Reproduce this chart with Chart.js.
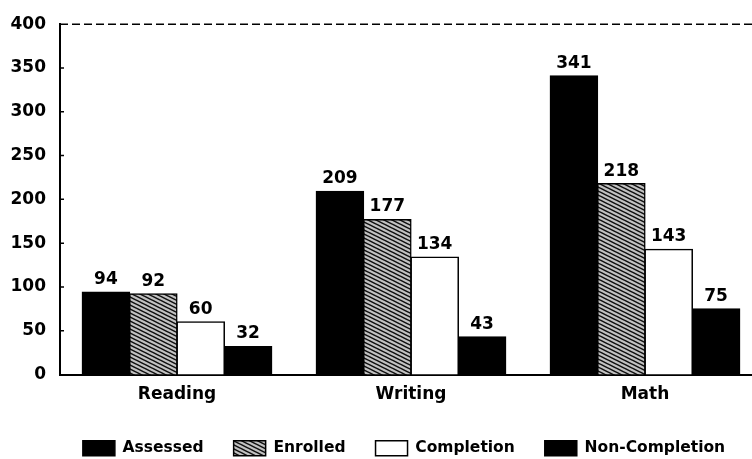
<!DOCTYPE html>
<html>
<head>
<meta charset="utf-8">
<script src="https://cdn.jsdelivr.net/npm/chart.js@4.4.0/dist/chart.umd.min.js"></script>
<style>
  html, body { margin: 0; padding: 0; background: #fff; overflow: hidden; }
  #wrap { position: relative; width: 808px; height: 466px; }
</style>
</head>
<body>
<div id="wrap"><canvas id="chart"></canvas></div>
<script>
// Course counts by subject
const categories = ['Reading', 'Writing', 'Math'];
const seriesNames = ['Assessed', 'Enrolled', 'Completion', 'Non-Completion'];
const assessed = [94, 209, 341];
const enrolled = [92, 177, 218];
const completion = [60, 134, 143];
const nonCompletion = [32, 43, 75];
const yTicks = [0, 50, 100, 150, 200, 250, 300, 350, 400];

const FONT = '"DejaVu Sans", "Liberation Sans", sans-serif';

// Grey hatched fill for the Enrolled bars
function makeHatch(ctx) {
  const p = document.createElement('canvas');
  p.width = 8; p.height = 4;
  const g = p.getContext('2d');
  g.fillStyle = '#c2c2c2';
  g.fillRect(0, 0, 8, 4);
  g.strokeStyle = '#111';
  g.lineWidth = 1.5;
  g.beginPath();
  for (let k = -2; k <= 2; k++) {
    g.moveTo(-1, -0.5 + 4 * k);
    g.lineTo(9, 4.5 + 4 * k);
  }
  g.stroke();
  return ctx.createPattern(p, 'repeat');
}

const canvas = document.getElementById('chart');
const ctx = canvas.getContext('2d');
const hatch = makeHatch(ctx);

// Value labels above each bar
const valueLabels = {
  id: 'valueLabels',
  afterDatasetsDraw(chart) {
    const c = chart.ctx;
    c.save();
    c.font = 'bold 17px ' + FONT;
    c.fillStyle = '#000';
    c.textAlign = 'center';
    c.textBaseline = 'alphabetic';
    chart.data.datasets.forEach((ds, di) => {
      const meta = chart.getDatasetMeta(di);
      meta.data.forEach((bar, i) => {
        c.fillText(String(ds.data[i]), bar.x, bar.y - 8);
      });
    });
    c.restore();
  }
};

// Dashed top frame line and short inward ticks on the value axis
const frame = {
  id: 'frame',
  afterDraw(chart) {
    const c = chart.ctx;
    const a = chart.chartArea;
    const y = chart.scales.y;
    c.save();
    c.strokeStyle = '#000';
    c.lineWidth = 1.5;
    c.setLineDash([8, 4]);
    c.beginPath();
    c.moveTo(a.left, a.top);
    c.lineTo(a.right, a.top);
    c.stroke();
    c.setLineDash([]);
    c.beginPath();
    yTicks.forEach(v => {
      if (v === yTicks[0] || v === yTicks[yTicks.length - 1]) return;
      const py = y.getPixelForValue(v);
      c.moveTo(a.left, py);
      c.lineTo(a.left + 4, py);
    });
    c.stroke();
    c.restore();
  }
};

new Chart(ctx, {
  type: 'bar',
  data: {
    labels: categories,
    datasets: [
      { label: seriesNames[0], data: assessed, backgroundColor: '#000', borderColor: '#000', borderWidth: 1 },
      { label: seriesNames[1], data: enrolled, backgroundColor: hatch, borderColor: '#000', borderWidth: 1.5 },
      { label: seriesNames[2], data: completion, backgroundColor: '#fff', borderColor: '#000', borderWidth: 1.5 },
      { label: seriesNames[3], data: nonCompletion, backgroundColor: '#000', borderColor: '#000', borderWidth: 1 }
    ]
  },
  options: {
    responsive: true,
    maintainAspectRatio: false,
    animation: false,
    devicePixelRatio: 1,
    layout: { padding: { top: 17, left: 0, right: 0, bottom: 0 } },
    datasets: { bar: { categoryPercentage: 0.81, barPercentage: 1.0, inflateAmount: 0.6 } },
    plugins: {
      tooltip: { enabled: false },
      legend: {
        position: 'bottom',
        align: 'center',
        labels: {
          color: '#000',
          font: { family: FONT, size: 15.5, weight: 'bold' },
          boxWidth: 32,
          boxHeight: 15,
          padding: 30,
          generateLabels(chart) {
            return chart.data.datasets.map((ds, i) => ({
              text: ds.label,
              fillStyle: ds.backgroundColor,
              strokeStyle: '#000',
              lineWidth: 1.5,
              hidden: false,
              datasetIndex: i
            }));
          }
        }
      }
    },
    scales: {
      x: {
        grid: { display: false, drawTicks: false },
        border: { display: true, color: '#000', width: 2 },
        ticks: { color: '#000', font: { family: FONT, size: 17, weight: 'bold' }, padding: 10 },
        afterFit(s) { s.height = 36; }
      },
      y: {
        min: 0,
        max: 400,
        grid: { display: false, drawTicks: false },
        border: { display: true, color: '#000', width: 2 },
        ticks: {
          stepSize: 50,
          color: '#000',
          padding: 14,
          font: { family: FONT, size: 17, weight: 'bold' }
        },
        afterFit(s) { s.width = 60; }
      },
      spacer: {
        type: 'linear',
        position: 'right',
        display: true,
        grid: { display: false, drawTicks: false },
        border: { display: false },
        ticks: { display: false },
        afterFit(s) { s.width = 46; }
      }
    }
  },
  plugins: [valueLabels, frame]
});
</script>
</body>
</html>
